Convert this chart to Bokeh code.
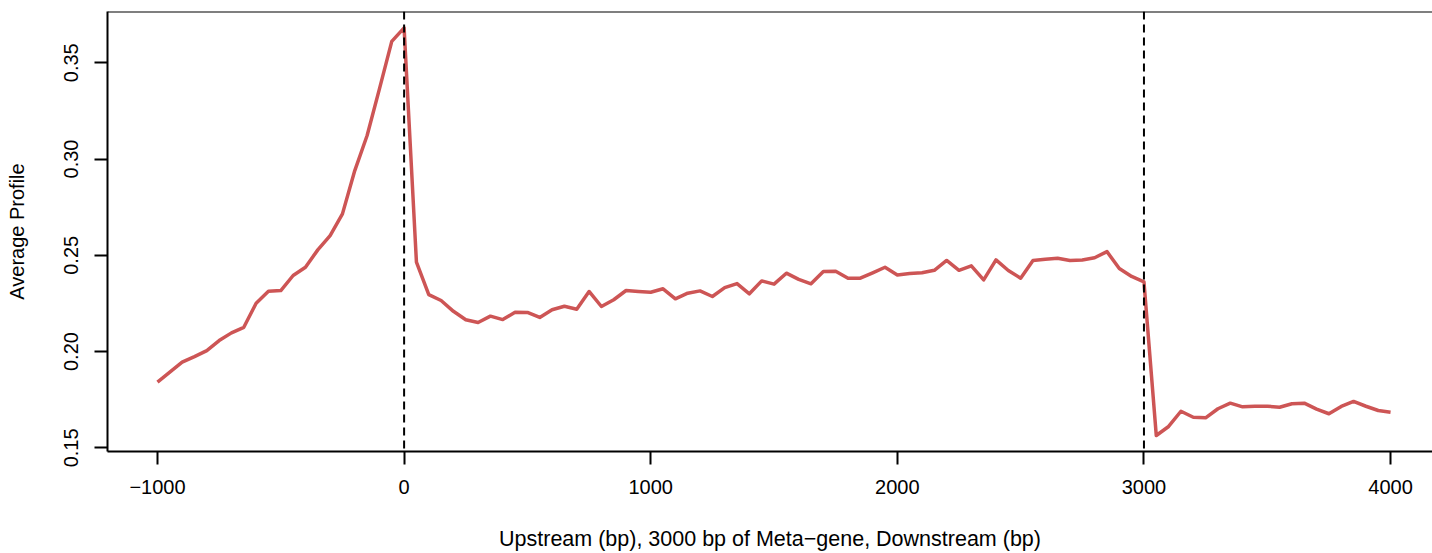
from bokeh.plotting import figure
from bokeh.models import Range1d, FixedTicker, Span
from bokeh.embed import file_html
from bokeh.resources import INLINE

# ---- data ----
bp_positions = list(range(-1000, 4001, 50))

upstream = [0.1841, 0.1893, 0.1945, 0.1974, 0.2005, 0.2057, 0.2097, 0.2126, 0.2251, 0.2313,
            0.2317, 0.2395, 0.2438, 0.2528, 0.2602, 0.2715, 0.2940, 0.3122, 0.3364, 0.3611,
            0.3681]
genebody_1 = [0.2464, 0.2296, 0.2265, 0.2209, 0.2165, 0.2151, 0.2184, 0.2166, 0.2204, 0.2203,
              0.2177, 0.2217, 0.2235, 0.2220, 0.2312, 0.2234, 0.2269, 0.2317, 0.2312, 0.2308]
genebody_2 = [0.2326, 0.2274, 0.2303, 0.2315, 0.2286, 0.2332, 0.2353, 0.2300, 0.2367, 0.2350,
              0.2407, 0.2375, 0.2352, 0.2416, 0.2417, 0.2381, 0.2381, 0.2409, 0.2438, 0.2398]
genebody_3 = [0.2405, 0.2409, 0.2422, 0.2473, 0.2422, 0.2445, 0.2372, 0.2476, 0.2421, 0.2381,
              0.2473, 0.2479, 0.2485, 0.2473, 0.2476, 0.2487, 0.2519, 0.2431, 0.2390, 0.2362]
downstream = [0.1564, 0.1611, 0.1690, 0.1659, 0.1656, 0.1703, 0.1732, 0.1713, 0.1716, 0.1716,
              0.1711, 0.1729, 0.1732, 0.1701, 0.1677, 0.1715, 0.1741, 0.1716, 0.1694, 0.1685]

profile = upstream + genebody_1 + genebody_2 + genebody_3 + downstream

x_ticks = [-1000, 0, 1000, 2000, 3000, 4000]
x_tick_labels = ["\u22121000", "0", "1000", "2000", "3000", "4000"]
y_ticks = [0.15, 0.20, 0.25, 0.30, 0.35]
y_tick_labels = ["0.15", "0.20", "0.25", "0.30", "0.35"]
boundaries = [0, 3000]

x_title = "Upstream (bp), 3000 bp of Meta\u2212gene, Downstream (bp)"
y_title = "Average Profile"

FONT = "Liberation Sans"
FS = "20px"

p = figure(width=1432, height=553, output_backend="svg", toolbar_location=None,
           x_range=Range1d(-1202.7, 4170), y_range=Range1d(0.1481, 0.3766),
           min_border_left=107, min_border_right=0, min_border_top=11, min_border_bottom=102,
           x_axis_label=x_title, y_axis_label=y_title)
p.grid.visible = False
p.outline_line_color = None
p.background_fill_color = "white"
p.border_fill_color = "white"

for ax in (p.xaxis[0], p.yaxis[0]):
    ax.axis_line_color = "black"
    ax.axis_line_width = 2
    ax.major_tick_line_color = "black"
    ax.major_tick_line_width = 2
    ax.major_tick_in = 0
    ax.major_tick_out = 13
    ax.minor_tick_line_color = None
    ax.major_label_text_font = FONT
    ax.major_label_text_font_size = FS
    ax.major_label_text_color = "black"
    ax.axis_label_text_font = FONT
    ax.axis_label_text_font_size = FS
    ax.axis_label_text_font_style = "normal"
    ax.axis_label_text_color = "black"

p.xaxis[0].ticker = FixedTicker(ticks=x_ticks)
p.xaxis[0].major_label_overrides = dict(zip(x_ticks, x_tick_labels))
p.xaxis[0].major_label_standoff = 15
p.xaxis[0].axis_label_standoff = 30
p.xaxis[0].axis_label_text_font_size = "21.5px"

p.yaxis[0].ticker = FixedTicker(ticks=y_ticks)
p.yaxis[0].major_label_overrides = dict(zip(y_ticks, y_tick_labels))
p.yaxis[0].major_label_orientation = "vertical"
p.yaxis[0].major_label_standoff = 16
p.yaxis[0].axis_label_standoff = 34

# top edge of the box
p.add_layout(Span(location=0.3766, dimension="width", line_color="black", line_width=2))

for b in boundaries:
    p.add_layout(Span(location=b, dimension="height", line_color="black",
                      line_width=2, line_dash="8 5"))

p.line(bp_positions, profile, line_color="#CD5555", line_width=3.5, line_join="round")

open("out.html", "w").write(file_html(p, INLINE))
